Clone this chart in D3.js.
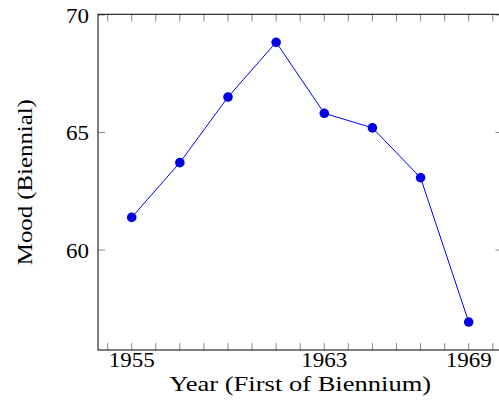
<!DOCTYPE html>
<html lang="en">
<head>
  <meta charset="UTF-8">
  <title>Mood (Biennial)</title>
  <script src="https://d3js.org/d3.v7.min.js"></script>
  <style>
    body { margin: 0; padding: 0; background: #fff; }
    svg { display: block; overflow: hidden; }
    text { font-family: "Liberation Serif", "DejaVu Serif", serif; fill: #000; }
    .tick-line { stroke: #888; stroke-width: 1; }
    .frame { fill: none; stroke: #000; stroke-width: 1; }
  </style>
</head>
<body>
  <div id="chart"></div>
  <script>
    const years = [1955, 1957, 1959, 1961, 1963, 1965, 1967, 1969];
    const mood = [61.39, 63.72, 66.51, 68.84, 65.82, 65.20, 63.08, 56.94];
    const xTickLabels = [1955, 1963, 1969];
    const yTickLabels = [60, 65, 70];

    const width = 499, height = 417;
    const margin = { left: 98, top: 14.3, bottom: 350, right: 502.4 };

    // pgfplots style: data range enlarged by 10% each side
    const xPad = (d3.max(years) - d3.min(years)) * 0.1;
    const yPad = (d3.max(mood) - d3.min(mood)) * 0.1;

    const x = d3.scaleLinear()
      .domain([d3.min(years) - xPad, d3.max(years) + xPad])
      .range([margin.left, margin.right]);
    const y = d3.scaleLinear()
      .domain([d3.min(mood) - yPad, d3.max(mood) + yPad])
      .range([margin.bottom, margin.top]);

    const svg = d3.select("#chart").append("svg")
      .attr("width", width)
      .attr("height", height);

    const minorYears = d3.range(Math.ceil(x.domain()[0]), Math.floor(x.domain()[1]) + 1);
    const tickLen = 7;

    // x ticks, inward on bottom and top
    const tk = svg.append("g");
    minorYears.forEach(yr => {
      tk.append("line").attr("class", "tick-line")
        .attr("x1", x(yr)).attr("x2", x(yr))
        .attr("y1", margin.bottom).attr("y2", margin.bottom - tickLen);
      tk.append("line").attr("class", "tick-line")
        .attr("x1", x(yr)).attr("x2", x(yr))
        .attr("y1", margin.top).attr("y2", margin.top + tickLen);
    });
    yTickLabels.forEach(v => {
      tk.append("line").attr("class", "tick-line")
        .attr("x1", margin.left).attr("x2", margin.left + tickLen)
        .attr("y1", y(v)).attr("y2", y(v));
      tk.append("line").attr("class", "tick-line")
        .attr("x1", margin.right).attr("x2", margin.right - tickLen)
        .attr("y1", y(v)).attr("y2", y(v));
    });

    svg.append("rect").attr("class", "frame")
      .attr("x", margin.left).attr("y", margin.top)
      .attr("width", margin.right - margin.left)
      .attr("height", margin.bottom - margin.top);

    // tick labels
    svg.append("g").selectAll("text")
      .data(xTickLabels)
      .join("text")
      .attr("x", d => x(d))
      .attr("y", 367)
      .attr("text-anchor", "middle")
      .attr("font-size", 22)
      .attr("textLength", 46)
      .attr("lengthAdjust", "spacingAndGlyphs")
      .text(d => d);

    svg.append("g").selectAll("text")
      .data(yTickLabels)
      .join("text")
      .attr("x", 89)
      .attr("y", d => y(d))
      .attr("dy", "0.35em")
      .attr("text-anchor", "end")
      .attr("font-size", 22)
      .attr("textLength", 23)
      .attr("lengthAdjust", "spacingAndGlyphs")
      .text(d => d);

    // axis titles
    svg.append("text")
      .attr("x", (margin.left + margin.right) / 2)
      .attr("y", 391)
      .attr("text-anchor", "middle")
      .attr("font-size", 22)
      .attr("textLength", 262)
      .attr("lengthAdjust", "spacingAndGlyphs")
      .text("Year (First of Biennium)");

    svg.append("text")
      .attr("transform", `translate(32,${(margin.top + margin.bottom) / 2}) rotate(-90)`)
      .attr("text-anchor", "middle")
      .attr("font-size", 22)
      .attr("textLength", 166)
      .attr("lengthAdjust", "spacingAndGlyphs")
      .text("Mood (Biennial)");

    // series
    const pts = years.map((yr, i) => ({ yr, v: mood[i] }));
    svg.append("path")
      .datum(pts)
      .attr("fill", "none")
      .attr("stroke", "#0000ff")
      .attr("stroke-width", 1)
      .attr("d", d3.line().x(d => x(d.yr)).y(d => y(d.v)));

    svg.append("g").selectAll("circle")
      .data(pts)
      .join("circle")
      .attr("cx", d => x(d.yr))
      .attr("cy", d => y(d.v))
      .attr("r", 4.8)
      .attr("fill", "#0000e6");
  </script>
</body>
</html>
